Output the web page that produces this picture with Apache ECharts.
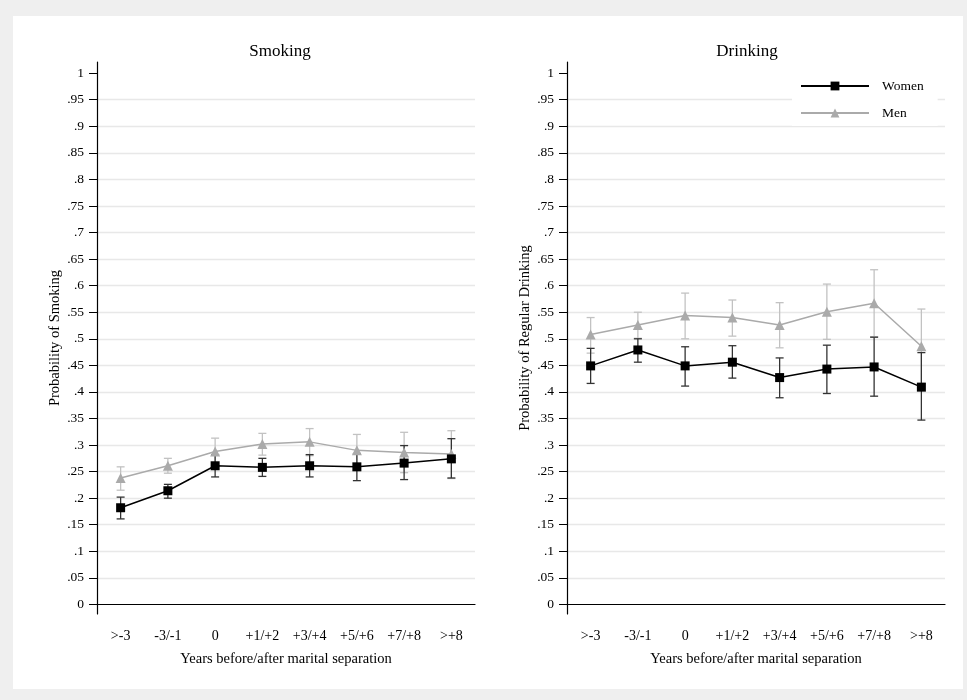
<!DOCTYPE html>
<html><head><meta charset="utf-8">
<script src="https://cdn.jsdelivr.net/npm/echarts@6/dist/echarts.min.js"></script>
<style>html,body{margin:0;padding:0;background:#efefef;}#c{width:967px;height:700px;}</style>
</head><body><div id="c"></div>
<script>
const categories = ['>-3','-3/-1','0','+1/+2','+3/+4','+5/+6','+7/+8','>+8'];
const yTicks = [0,0.05,0.1,0.15,0.2,0.25,0.3,0.35,0.4,0.45,0.5,0.55,0.6,0.65,0.7,0.75,0.8,0.85,0.9,0.95,1];

const smokeWomen   = [0.182,0.214,0.261,0.258,0.261,0.259,0.266,0.274];
const smokeWomenLo = [0.161,0.200,0.240,0.241,0.240,0.233,0.235,0.238];
const smokeWomenHi = [0.202,0.226,0.282,0.275,0.282,0.284,0.299,0.312];
const smokeMen     = [0.238,0.261,0.288,0.302,0.306,0.290,0.286,0.283];
const smokeMenLo   = [0.215,0.247,0.264,0.281,0.280,0.259,0.248,0.237];
const smokeMenHi   = [0.259,0.275,0.313,0.322,0.331,0.320,0.324,0.327];

const drinkWomen   = [0.449,0.479,0.449,0.456,0.427,0.443,0.447,0.409];
const drinkWomenLo = [0.416,0.456,0.411,0.426,0.389,0.397,0.392,0.347];
const drinkWomenHi = [0.482,0.500,0.485,0.487,0.464,0.488,0.503,0.474];
const drinkMen     = [0.508,0.526,0.544,0.540,0.526,0.551,0.567,0.486];
const drinkMenLo   = [0.473,0.501,0.500,0.505,0.483,0.499,0.504,0.416];
const drinkMenHi   = [0.540,0.550,0.586,0.573,0.568,0.603,0.630,0.556];

const FONT = 'Liberation Serif';
const WOMEN_COLOR = '#000000';
const MEN_COLOR = '#aaaaaa';
const WOMEN_CI = '#333333';
const MEN_CI = '#c2c2c2';
const GRID_COLOR = '#e8e8e8';

function fmt(v){
  if (Math.abs(v) < 1e-9) return '0';
  if (Math.abs(v-1) < 1e-9) return '1';
  return String(+v.toFixed(2)).replace(/^0/, '');
}

function ciData(lo, hi){ return lo.map((l,i)=>[i,l,hi[i]]); }

function ciSeries(name, lo, hi, color, idx){
  return {
    type:'custom', name: name + ' CI', xAxisIndex: idx, yAxisIndex: idx,
    data: ciData(lo, hi), encode:{x:0, y:[1,2]}, silent:true, z:1,
    renderItem: function(params, api){
      const x = api.value(0);
      const pLo = api.coord([x, api.value(1)]);
      const pHi = api.coord([x, api.value(2)]);
      const w = 4;
      const st = {stroke: color, lineWidth: 1.3};
      return {type:'group', children:[
        {type:'line', shape:{x1:pLo[0], y1:pLo[1], x2:pHi[0], y2:pHi[1]}, style:st},
        {type:'line', shape:{x1:pLo[0]-w, y1:pLo[1], x2:pLo[0]+w, y2:pLo[1]}, style:st},
        {type:'line', shape:{x1:pHi[0]-w, y1:pHi[1], x2:pHi[0]+w, y2:pHi[1]}, style:st}
      ]};
    }
  };
}

function lineSeries(name, data, color, symbol, size, idx, z){
  return {
    type:'line', name:name, xAxisIndex: idx, yAxisIndex: idx, data:data,
    symbol: symbol, symbolSize: size, showSymbol:true, z:z,
    lineStyle:{color:color, width:1.5}, itemStyle:{color:color},
    emphasis:{disabled:true}, animation:false
  };
}

function xAxis(idx){
  return {
    type:'category', gridIndex: idx, data: categories, boundaryGap:true,
    name:'Years before/after marital separation', nameLocation:'middle', nameGap:38,
    nameTextStyle:{fontFamily:FONT, fontSize:14.5, color:'#000'},
    axisLine:{lineStyle:{color:'#000', width:1.2}},
    axisTick:{alignWithLabel:true, length:8, lineStyle:{color:'#000'}},
    axisLabel:{fontFamily:FONT, fontSize:14, color:'#000', margin:15, interval:0},
    splitLine:{show:false}
  };
}

const gridColors = yTicks.map(function(v, i){ return (i === 0 || i === yTicks.length - 1) ? 'rgba(0,0,0,0)' : GRID_COLOR; });

function yAxis(idx, name){
  return {
    type:'value', gridIndex: idx, min:-0.018, max:1.021,
    name:name, nameLocation:'middle', nameGap:34,
    nameTextStyle:{fontFamily:FONT, fontSize:14.5, color:'#000'},
    axisLine:{show:true, lineStyle:{color:'#000', width:1.2}},
    axisTick:{show:true, length:8, lineStyle:{color:'#000'}, customValues: yTicks},
    axisLabel:{fontFamily:FONT, fontSize:13.5, color:'#000', margin:13, customValues: yTicks, formatter: fmt},
    splitLine:{show:true, lineStyle:{color:gridColors, width:1.3}}
  };
}

const chart = echarts.init(document.getElementById('c'), null, {renderer:'canvas'});
chart.setOption({
  animation:false,
  backgroundColor:'#efefef',
  graphic:[{type:'rect', left:13, top:16, shape:{width:950, height:673}, style:{fill:'#ffffff'}, z:-10, silent:true}],
  title:[
    {text:'Smoking', left:275, top:38, textAlign:'center', textStyle:{fontFamily:FONT, fontSize:17, fontWeight:'normal', color:'#000'}},
    {text:'Drinking', left:742, top:38, textAlign:'center', textStyle:{fontFamily:FONT, fontSize:17, fontWeight:'normal', color:'#000'}}
  ],
  legend:{
    data:['Women','Men'], orient:'vertical', left:792, top:73,
    backgroundColor:'#ffffff', padding:[6,14,6,8], itemGap:13,
    itemWidth:68, itemHeight:11,
    textStyle:{fontFamily:FONT, fontSize:13.5, color:'#000', padding:[0,0,0,8]},
    selectedMode:false
  },
  grid:[
    {left:97, right:492, top:62, bottom:86},
    {left:567, right:22, top:62, bottom:86}
  ],
  xAxis:[xAxis(0), xAxis(1)],
  yAxis:[yAxis(0,'Probability of Smoking'), yAxis(1,'Probability of Regular Drinking')],
  series:[
    ciSeries('Men', smokeMenLo, smokeMenHi, MEN_CI, 0),
    ciSeries('Women', smokeWomenLo, smokeWomenHi, WOMEN_CI, 0),
    lineSeries('Men', smokeMen, MEN_COLOR, 'triangle', 10, 0, 3),
    lineSeries('Women', smokeWomen, WOMEN_COLOR, 'rect', 9, 0, 4),
    ciSeries('Men', drinkMenLo, drinkMenHi, MEN_CI, 1),
    ciSeries('Women', drinkWomenLo, drinkWomenHi, WOMEN_CI, 1),
    lineSeries('Men', drinkMen, MEN_COLOR, 'triangle', 10, 1, 3),
    lineSeries('Women', drinkWomen, WOMEN_COLOR, 'rect', 9, 1, 4)
  ]
});
</script></body></html>
